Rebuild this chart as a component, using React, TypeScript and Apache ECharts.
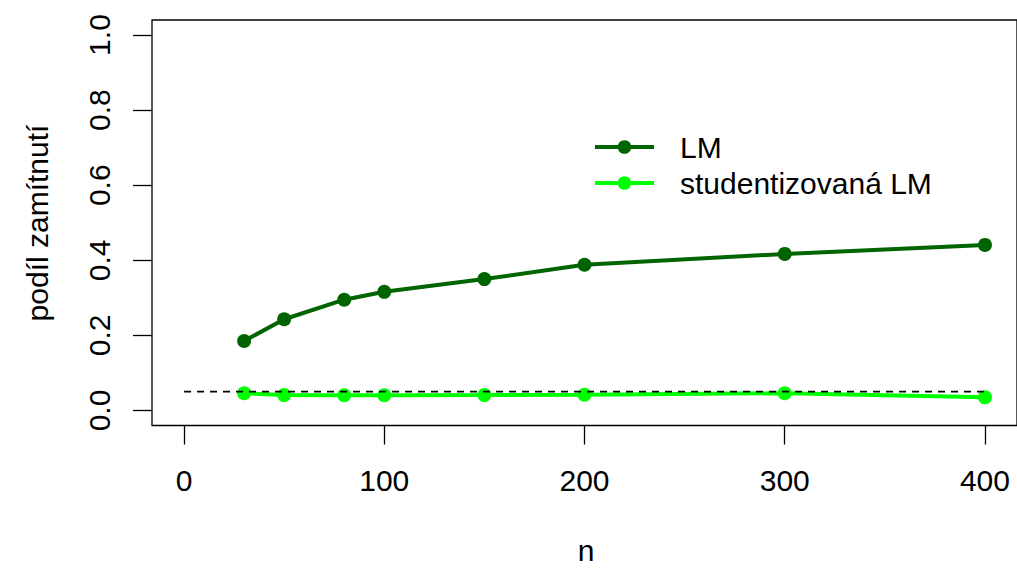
import React, { useEffect, useRef } from "react";
import * as echarts from "echarts";

const nValues = [30, 50, 80, 100, 150, 200, 300, 400];
const lmValues = [0.185, 0.243, 0.295, 0.316, 0.35, 0.388, 0.417, 0.441];
const studValues = [0.046, 0.041, 0.0405, 0.0405, 0.041, 0.042, 0.046, 0.035];
const refX = [0, 400];
const refY = [0.05, 0.05];
const xTicks = [0, 100, 200, 300, 400];
const yTicks = [0, 0.2, 0.4, 0.6, 0.8, 1.0];
const seriesNames = ["LM", "studentizovaná LM"];
const xTitle = "n";
const yTitle = "podíl zamítnutí";

const FONT = "'Liberation Sans', Arial, Helvetica, sans-serif";
const DARK = "#006400";
const LIGHT = "#00FF00";

export default function App() {
  const ref = useRef<HTMLDivElement>(null);
  useEffect(() => {
    if (!ref.current) return;
    const chart = echarts.init(ref.current, undefined, { renderer: "svg" });
    const option: any = {
      animation: false,
      backgroundColor: "#ffffff",
      textStyle: { fontFamily: FONT },
      grid: {
        left: 152,
        right: -3.2,
        top: 20,
        bottom: 142.5,
        show: true,
        borderColor: "#000",
        borderWidth: 1.3,
        containLabel: false,
      },
      xAxis: {
        type: "value",
        min: -16,
        max: 416,
        axisLine: { show: false, onZero: false },
        splitLine: { show: false },
        axisTick: {
          show: true,
          inside: false,
          length: 19,
          customValues: xTicks,
          lineStyle: { color: "#000", width: 1.3 },
        },
        axisLabel: {
          customValues: xTicks,
          margin: 40,
          fontSize: 30,
          color: "#000",
          fontFamily: FONT,
        },
      },
      yAxis: {
        type: "value",
        min: -0.04,
        max: 1.04,
        axisLine: { show: false, onZero: false },
        splitLine: { show: false },
        axisTick: {
          show: true,
          inside: false,
          length: 19,
          customValues: yTicks,
          lineStyle: { color: "#000", width: 1.3 },
        },
        axisLabel: {
          customValues: yTicks,
          rotate: 90,
          margin: 38,
          fontSize: 30,
          color: "#000",
          fontFamily: FONT,
          formatter: (v: number) => v.toFixed(1),
        },
      },
      legend: {
        orient: "vertical",
        left: 593,
        top: 132,
        padding: 0,
        itemGap: 6,
        itemWidth: 59,
        itemHeight: 17,
        data: seriesNames,
        lineStyle: { width: 4 },
        textStyle: {
          fontSize: 30,
          lineHeight: 30,
          color: "#000",
          fontFamily: FONT,
          padding: [0, 0, 0, 21],
        },
      },
      graphic: [
        {
          type: "text",
          x: 586,
          y: 550,
          style: {
            text: xTitle,
            font: `30px ${FONT}`,
            fill: "#000",
            align: "center",
            verticalAlign: "middle",
          },
        },
        {
          type: "text",
          x: 37.5,
          y: 223,
          rotation: Math.PI / 2,
          style: {
            text: yTitle,
            font: `30px ${FONT}`,
            fill: "#000",
            align: "center",
            verticalAlign: "middle",
          },
        },
      ],
      series: [
        {
          name: seriesNames[0],
          type: "line",
          data: nValues.map((n, i) => [n, lmValues[i]]),
          symbol: "circle",
          symbolSize: 14,
          itemStyle: { color: DARK },
          lineStyle: { color: DARK, width: 4 },
          z: 2,
        },
        {
          name: seriesNames[1],
          type: "line",
          data: nValues.map((n, i) => [n, studValues[i]]),
          symbol: "circle",
          symbolSize: 14,
          itemStyle: { color: LIGHT },
          lineStyle: { color: LIGHT, width: 4 },
          z: 3,
        },
        {
          name: "ref",
          type: "line",
          data: refX.map((x, i) => [x, refY[i]]),
          symbol: "none",
          lineStyle: { color: "#000", width: 1.8, type: [7, 6] },
          z: 4,
          silent: true,
        },
      ],
    };
    chart.setOption(option);
    return () => chart.dispose();
  }, []);
  return (
    <div
      ref={ref}
      style={{ position: "fixed", left: 0, top: 0, width: 1017, height: 568, background: "#fff" }}
    />
  );
}
